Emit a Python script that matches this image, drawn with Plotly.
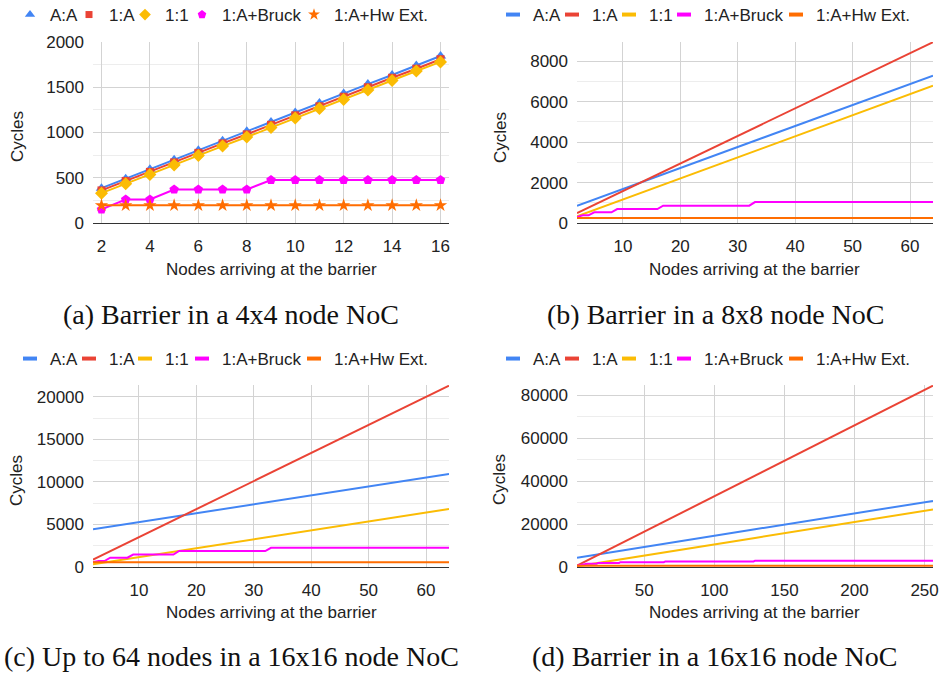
import plotly.graph_objects as go

W, H = 941, 675

# ---------------- data ----------------
series_names = ["A:A", "1:A", "1:1", "1:A+Bruck", "1:A+Hw Ext."]
colors = ["#4285F4", "#EA4335", "#FBBC04", "#FF00FF", "#FF6D01"]
symbols_a = ["triangle-up", "square", "diamond", "pentagon", "star"]
symsize_a = [10, 8, 10, 10, 10]

# (a) Barrier in a 4x4 node NoC
nodes_a = [2, 3, 4, 5, 6, 7, 8, 9, 10, 11, 12, 13, 14, 15, 16]
aa_a = [385, 490, 595, 700, 805, 910, 1015, 1115, 1220, 1325, 1430, 1535, 1635, 1740, 1845]
oa_a = [360, 465, 565, 670, 775, 880, 980, 1085, 1190, 1290, 1395, 1500, 1605, 1705, 1810]
o1_a = [330, 435, 535, 640, 745, 850, 950, 1055, 1160, 1265, 1365, 1470, 1575, 1680, 1780]
bruck_a = [150, 260, 260, 370, 370, 370, 370, 475, 475, 475, 475, 475, 475, 475, 475]
hw_a = [195, 195, 195, 195, 195, 195, 195, 195, 195, 195, 195, 195, 195, 195, 195]

# (b) Barrier in a 8x8 node NoC
nodes_b = [2, 3, 4, 5, 8, 9, 16, 17, 32, 33, 64]
aa_b = [850, 954, 1058, 1162, 1473, 1577, 2305, 2409, 3967, 4071, 7290]
oa_b = [493, 629, 765, 902, 1310, 1446, 2400, 2536, 4579, 4715, 8940]
o1_b = [330, 434, 538, 642, 955, 1059, 1787, 1892, 3453, 3557, 6784]
bruck_b = [300, 380, 380, 530, 530, 690, 690, 855, 855, 1035, 1035]
hw_b = [250, 250, 250, 250, 250, 250, 250, 250, 250, 250, 250]

# (c) Up to 64 nodes in a 16x16 node NoC
nodes_c = [2, 3, 4, 5, 8, 9, 16, 17, 32, 33, 64]
aa_c = [4430, 4535, 4640, 4745, 5060, 5165, 5900, 6005, 7580, 7685, 10940]
oa_c = [863, 1193, 1523, 1853, 2843, 3173, 5483, 5813, 10763, 11093, 21320]
o1_c = [330, 435, 539, 644, 958, 1063, 1796, 1901, 3471, 3576, 6820]
bruck_c = [600, 700, 700, 1100, 1100, 1470, 1470, 1880, 1880, 2250, 2250]
hw_c = [570, 570, 570, 570, 570, 570, 570, 570, 570, 570, 570]

# (d) Barrier in a 16x16 node NoC
nodes_d = [2, 3, 4, 5, 8, 9, 16, 17, 32, 33, 64, 65, 128, 129, 256]
aa_d = [4350, 4454, 4558, 4662, 4974, 5078, 5806, 5910, 7470, 7574, 10798, 10902, 17454, 17558, 30766]
oa_d = [600, 930, 1260, 1590, 2580, 2910, 5220, 5550, 10500, 10830, 21050, 21380, 42170, 42500, 84400]
o1_d = [310, 414, 518, 622, 934, 1038, 1766, 1870, 3430, 3534, 6758, 6862, 13414, 13518, 26726]
bruck_d = [600, 700, 700, 1100, 1100, 1470, 1470, 1880, 1880, 2250, 2250, 2600, 2600, 2950, 2950]
hw_d = [570, 570, 570, 570, 570, 570, 570, 570, 570, 570, 570, 570, 570, 570, 570]

captions = ["(a) Barrier in a 4x4 node NoC", "(b) Barrier in a 8x8 node NoC",
            "(c) Up to 64 nodes in a 16x16 node NoC", "(d) Barrier in a 16x16 node NoC"]
x_title = "Nodes arriving at the barrier"
y_title = "Cycles"

panels = [
    dict(x=nodes_a, ys=[aa_a, oa_a, o1_a, bruck_a, hw_a], markers=True,
         xrange=[1.65, 16.35], xdtick=2, xtick0=2, yrange=[0, 2000], ydtick=500, yminor=250),
    dict(x=nodes_b, ys=[aa_b, oa_b, o1_b, bruck_b, hw_b], markers=False,
         xrange=[2, 64], xdtick=10, xtick0=0, yrange=[0, 8950], ydtick=2000, yminor=1000),
    dict(x=nodes_c, ys=[aa_c, oa_c, o1_c, bruck_c, hw_c], markers=False,
         xrange=[2, 64], xdtick=10, xtick0=0, yrange=[0, 21400], ydtick=5000, yminor=2500),
    dict(x=nodes_d, ys=[aa_d, oa_d, o1_d, bruck_d, hw_d], markers=False,
         xrange=[2, 256], xdtick=50, xtick0=0, yrange=[0, 84700], ydtick=20000, yminor=10000),
]

# ---------------- layout geometry (pixels) ----------------
plot_x = [(93, 449), (577, 933), (93, 449), (577, 933)]
plot_y = [(42, 223), (42, 223), (385, 567), (385, 567)]
legend_y = [15, 15, 359, 359]
legend_text_x = [
    [47, 106, 162, 219, 331],
    [530, 589, 646, 701, 813],
    [47, 106, 162, 219, 331],
    [530, 589, 646, 701, 813],
]
ytitle_x = [17, 500, 16, 499]
ytitle_y = [137, 137, 480, 480]
xtitle_pos = [(271, 269), (754, 269), (271, 612), (754, 612)]
caption_pos = [(231, 314), (715, 314), (231, 656), (714, 656)]

SANS = "Liberation Sans, Arial, sans-serif"
SERIF = "Liberation Serif, Times New Roman, serif"
TXT = "#222222"

fig = go.Figure()
layout = dict(width=W, height=H, template="none",
              margin=dict(l=0, r=0, t=0, b=0, pad=0, autoexpand=False),
              paper_bgcolor="white", plot_bgcolor="white", showlegend=True,
              font=dict(family=SANS, size=17, color=TXT))
annotations = []
legend_idx = 0

for p, panel in enumerate(panels):
    ax = "" if p == 0 else str(p + 1)
    xa, ya = "x" + ax, "y" + ax
    x0, x1 = plot_x[p]
    y0, y1 = plot_y[p]
    layout["xaxis" + ax] = dict(
        domain=[x0 / W, x1 / W], anchor=ya, range=panel["xrange"], automargin=False,
        tick0=panel["xtick0"], dtick=panel["xdtick"], showgrid=True,
        gridcolor="#d3d3d3", gridwidth=1, zeroline=False, showline=True,
        linecolor="#333333", linewidth=1, ticks="", ticklabelstandoff=8,
        tickfont=dict(size=17, color=TXT, family=SANS))
    layout["yaxis" + ax] = dict(
        domain=[1 - y1 / H, 1 - y0 / H], anchor=xa, range=panel["yrange"], automargin=False,
        tick0=0, dtick=panel["ydtick"], tickformat="d", showgrid=True,
        gridcolor="#d3d3d3", gridwidth=1, zeroline=False, showline=False,
        ticks="", ticklabelstandoff=8,
        minor=dict(dtick=panel["yminor"], tick0=0, showgrid=True,
                   gridcolor="#ededed", gridwidth=1),
        tickfont=dict(size=17, color=TXT, family=SANS))

    for s, name in enumerate(series_names):
        if panel["markers"]:
            fig.add_trace(go.Scatter(
                x=panel["x"], y=panel["ys"][s], name=name, mode="lines+markers",
                line=dict(color=colors[s], width=2),
                marker=dict(symbol=symbols_a[s], size=symsize_a[s], color=colors[s]),
                xaxis=xa, yaxis=ya, showlegend=False, hoverinfo="x+y+name"))
        else:
            fig.add_trace(go.Scatter(
                x=panel["x"], y=panel["ys"][s], name=name, mode="lines",
                line=dict(color=colors[s], width=2),
                xaxis=xa, yaxis=ya, showlegend=False, hoverinfo="x+y+name"))

    # legend entries (one small legend per entry, positioned like the original)
    for s, name in enumerate(series_names):
        legend_idx += 1
        lkey = "legend" if legend_idx == 1 else "legend%d" % legend_idx
        if panel["markers"]:
            mk = dict(symbol=symbols_a[s], size=symsize_a[s] - 1, color=colors[s])
        else:
            mk = dict(symbol="line-ew", size=10, color=colors[s],
                      line=dict(color=colors[s], width=4))
        fig.add_trace(go.Scatter(
            x=[None], y=[None], name=name, mode="markers", marker=mk,
            xaxis=xa, yaxis=ya, showlegend=True, legend=lkey, hoverinfo="skip"))
        layout[lkey] = dict(
            x=(legend_text_x[p][s] - 37) / W, xanchor="left",
            y=1 - legend_y[p] / H, yanchor="middle",
            orientation="h", bgcolor="rgba(0,0,0,0)", borderwidth=0,
            font=dict(size=17, color=TXT, family=SANS))

    annotations.append(dict(text=y_title, x=ytitle_x[p] / W, y=1 - ytitle_y[p] / H,
                            xref="paper", yref="paper", showarrow=False, textangle=-90,
                            xanchor="center", yanchor="middle",
                            font=dict(size=17, color=TXT, family=SANS)))
    annotations.append(dict(text=x_title, x=xtitle_pos[p][0] / W, y=1 - xtitle_pos[p][1] / H,
                            xref="paper", yref="paper", showarrow=False,
                            xanchor="center", yanchor="middle",
                            font=dict(size=17, color=TXT, family=SANS)))
    annotations.append(dict(text=captions[p], x=caption_pos[p][0] / W, y=1 - caption_pos[p][1] / H,
                            xref="paper", yref="paper", showarrow=False,
                            xanchor="center", yanchor="middle",
                            font=dict(size=28, color="#111111", family=SERIF)))

layout["annotations"] = annotations
fig.update_layout(**layout)
# remove the page's default 8px body margin so the figure sits at the window's corner
fig.write_html("out.html", config={"displayModeBar": False},
               post_script="document.body.style.margin='0';")
